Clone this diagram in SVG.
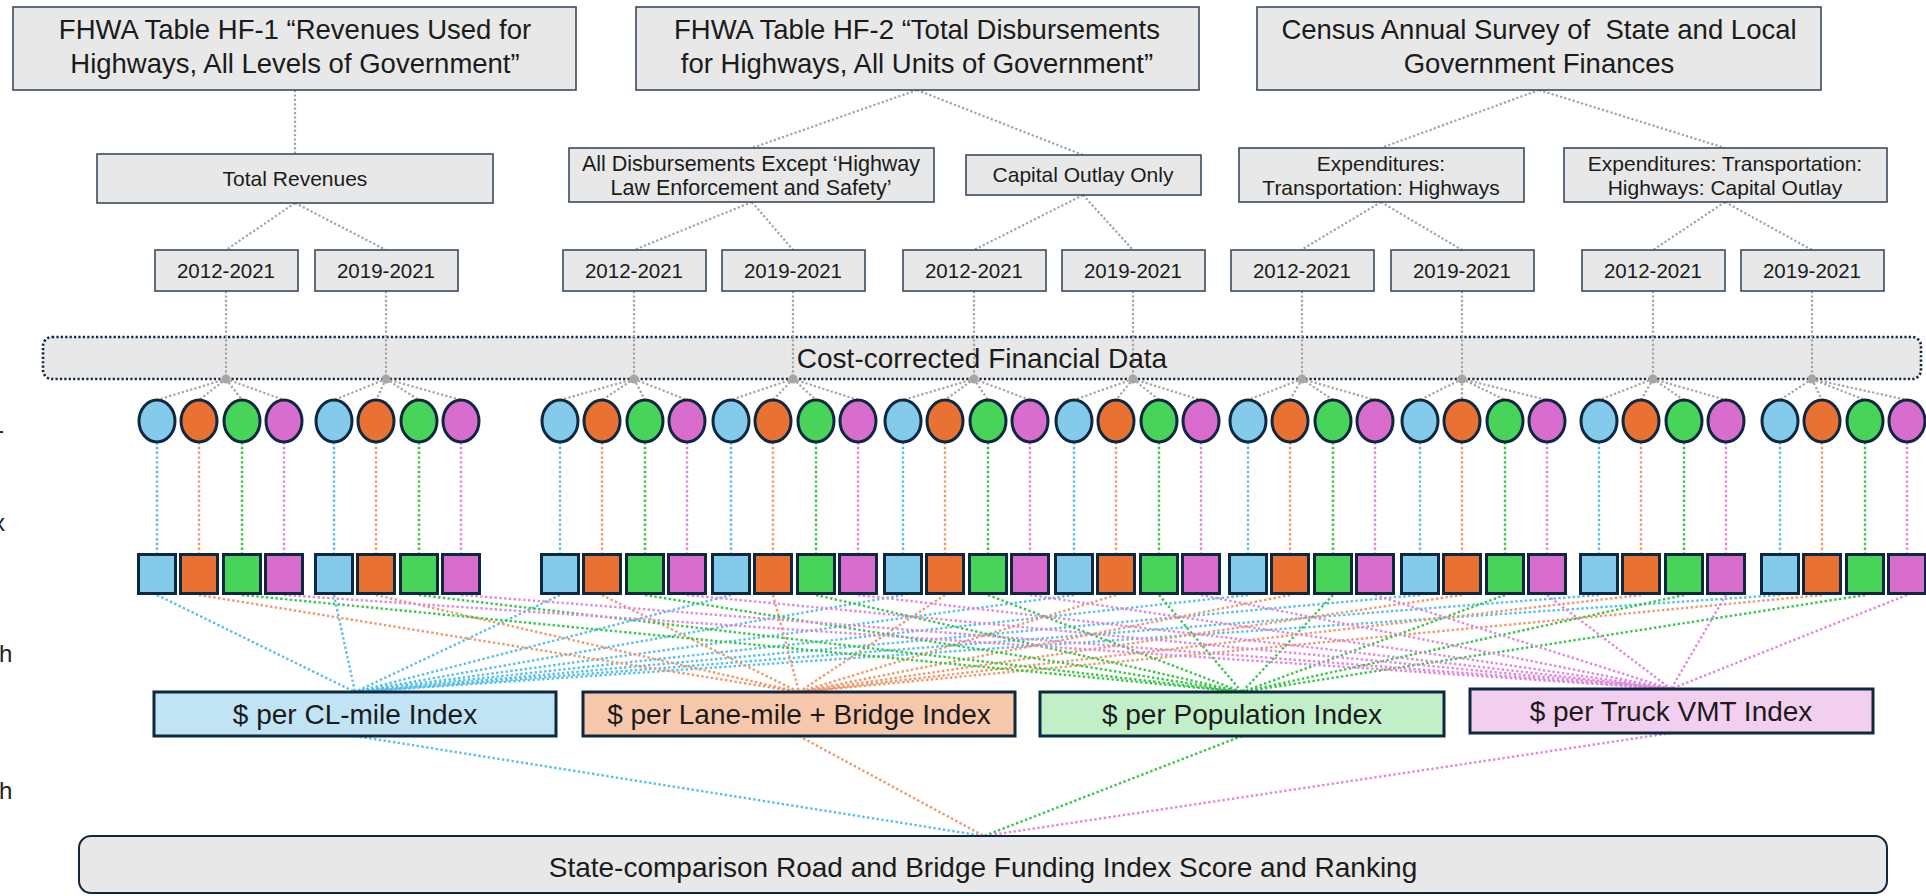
<svg xmlns="http://www.w3.org/2000/svg" width="1926" height="896" viewBox="0 0 1926 896">
<style>
.t{font-family:"Liberation Sans",Arial,sans-serif;fill:#1b1b1b;text-anchor:middle}
.box{fill:#E8E8E8;stroke:#3A4B5C;stroke-width:1.6}
.gl{stroke:#A3A3A3;stroke-width:2.2;stroke-dasharray:2.2 2.2;fill:none}
.lb{stroke:#56C0EC;stroke-width:2.4;stroke-dasharray:2.4 2.4;fill:none}
.lo{stroke:#F2976A;stroke-width:2.4;stroke-dasharray:2.4 2.4;fill:none}
.lg{stroke:#35C846;stroke-width:2.4;stroke-dasharray:2.4 2.4;fill:none}
.lp{stroke:#E486DD;stroke-width:2.4;stroke-dasharray:2.4 2.4;fill:none}
.nb{fill:#83CAEB}.no{fill:#E97132}.ng{fill:#47D459}.np{fill:#D86DCD}
.sh{stroke:#0E2841;stroke-width:3}
.idx{stroke:#0E2841;stroke-width:3}
.dot{fill:#A6A6A6}
</style>

<g id="connectors">
<path class="gl" d="M295 90L295 154M295 203L226 250M295 203L386 250"/>
<path class="gl" d="M917 90L752 148M917 90L1083 155M752 202L634 250M752 202L793 250M1083 195L974 250M1083 195L1133 250"/>
<path class="gl" d="M1539 90L1381 148M1539 90L1725 148M1381 202L1301 250M1381 202L1462 250M1725 202L1653 250M1725 202L1812 250"/>
</g>

<g id="cost-corrected">
<rect x="43" y="337" width="1878" height="42" rx="9" fill="#E8E8E8" stroke="#0E2841" stroke-width="2.6" stroke-dasharray="2.2 2.2"/>
</g>

<g id="connectors-mid">
<path class="gl" d="M226 291L226 379M386 291L386 379M634 291L634 379M793 291L793 379M974 291L974 379M1133 291L1133 379M1302 291L1302 379M1462 291L1462 379M1653 291L1653 379M1812 291L1812 379"/>
<path class="gl" d="M226 379L157 400M226 379L199 400M226 379L242 400M226 379L284 400
M386 379L334 400M386 379L376 400M386 379L419 400M386 379L461 400
M634 379L560 400M634 379L602 400M634 379L645 400M634 379L687 400
M793 379L731 400M793 379L773 400M793 379L816 400M793 379L858 400
M974 379L903 400M974 379L945 400M974 379L988 400M974 379L1030 400
M1133 379L1074 400M1133 379L1116 400M1133 379L1159 400M1133 379L1201 400
M1302 379L1248 400M1302 379L1290 400M1302 379L1333 400M1302 379L1375 400
M1462 379L1420 400M1462 379L1462 400M1462 379L1505 400M1462 379L1547 400
M1653 379L1599 400M1653 379L1641 400M1653 379L1684 400M1653 379L1726 400
M1812 379L1780 400M1812 379L1822 400M1812 379L1865 400M1812 379L1907 400"/>
<g class="dot">
<circle cx="226" cy="379" r="4.5"/><circle cx="386" cy="379" r="4.5"/><circle cx="634" cy="379" r="4.5"/><circle cx="793" cy="379" r="4.5"/><circle cx="974" cy="379" r="4.5"/><circle cx="1133" cy="379" r="4.5"/><circle cx="1302" cy="379" r="4.5"/><circle cx="1462" cy="379" r="4.5"/><circle cx="1653" cy="379" r="4.5"/><circle cx="1812" cy="379" r="4.5"/>
</g>
<path class="lb" d="M157 442V553M334 442V553M560 442V553M731 442V553M903 442V553M1074 442V553M1248 442V553M1420 442V553M1599 442V553M1780 442V553"/>
<path class="lo" d="M199 442V553M376 442V553M602 442V553M773 442V553M945 442V553M1116 442V553M1290 442V553M1462 442V553M1641 442V553M1822 442V553"/>
<path class="lg" d="M242 442V553M419 442V553M645 442V553M816 442V553M988 442V553M1159 442V553M1333 442V553M1505 442V553M1684 442V553M1865 442V553"/>
<path class="lp" d="M284 442V553M461 442V553M687 442V553M858 442V553M1030 442V553M1201 442V553M1375 442V553M1547 442V553M1726 442V553M1907 442V553"/>
<path class="lb" d="M157 595L355 692M334 595L355 692M560 595L355 692M731 595L355 692M903 595L355 692M1074 595L355 692M1248 595L355 692M1420 595L355 692M1599 595L355 692M1780 595L355 692"/>
<path class="lo" d="M199 595L799 692M376 595L799 692M602 595L799 692M773 595L799 692M945 595L799 692M1116 595L799 692M1290 595L799 692M1462 595L799 692M1641 595L799 692M1822 595L799 692"/>
<path class="lg" d="M242 595L1242 692M419 595L1242 692M645 595L1242 692M816 595L1242 692M988 595L1242 692M1159 595L1242 692M1333 595L1242 692M1505 595L1242 692M1684 595L1242 692M1865 595L1242 692"/>
<path class="lp" d="M284 595L1671 689M461 595L1671 689M687 595L1671 689M858 595L1671 689M1030 595L1671 689M1201 595L1671 689M1375 595L1671 689M1547 595L1671 689M1726 595L1671 689M1907 595L1671 689"/>
<path class="lb" d="M355 736L984 836"/>
<path class="lo" d="M799 736L984 836"/>
<path class="lg" d="M1242 736L984 836"/>
<path class="lp" d="M1671 733L984 836"/>
</g>

<text class="t" x="982" y="368" font-size="28">Cost-corrected Financial Data</text>

<g id="hf1"><rect class="box" x="13" y="7" width="563" height="83"/>
<text class="t" x="295" y="39" font-size="27.5">FHWA Table HF-1 “Revenues Used for</text>
<text class="t" x="295" y="73" font-size="27.5">Highways, All Levels of Government”</text></g>
<g id="hf2"><rect class="box" x="636" y="7" width="563" height="83"/>
<text class="t" x="917" y="39" font-size="27.5">FHWA Table HF-2 “Total Disbursements</text>
<text class="t" x="917" y="73" font-size="27.5">for Highways, All Units of Government”</text></g>
<g id="census"><rect class="box" x="1257" y="7" width="564" height="83"/>
<text class="t" x="1539" y="39" font-size="27.5" xml:space="preserve">Census Annual Survey of  State and Local</text>
<text class="t" x="1539" y="73" font-size="27.5">Government Finances</text></g>

<g id="total-revenues"><rect class="box" x="97" y="154" width="396" height="49"/>
<text class="t" x="295" y="186" font-size="21">Total Revenues</text></g>
<g id="all-disb"><rect class="box" x="569" y="148" width="365" height="54"/>
<text class="t" x="751" y="171" font-size="21.5">All Disbursements Except ‘Highway</text>
<text class="t" x="751" y="195" font-size="21.5">Law Enforcement and Safety’</text></g>
<g id="capital-outlay"><rect class="box" x="966" y="155" width="235" height="40"/>
<text class="t" x="1083" y="182" font-size="21">Capital Outlay Only</text></g>
<g id="exp-hwy"><rect class="box" x="1239" y="148" width="285" height="54"/>
<text class="t" x="1381" y="171" font-size="21">Expenditures:</text>
<text class="t" x="1381" y="195" font-size="21">Transportation: Highways</text></g>
<g id="exp-cap"><rect class="box" x="1564" y="148" width="323" height="54"/>
<text class="t" x="1725" y="171" font-size="21">Expenditures: Transportation:</text>
<text class="t" x="1725" y="195" font-size="21">Highways: Capital Outlay</text></g>

<g id="y1"><rect class="box" x="155" y="250" width="143" height="41"/><text class="t" x="226" y="278" font-size="20.5">2012-2021</text></g>
<g id="y2"><rect class="box" x="315" y="250" width="143" height="41"/><text class="t" x="386" y="278" font-size="20.5">2019-2021</text></g>
<g id="y3"><rect class="box" x="563" y="250" width="143" height="41"/><text class="t" x="634" y="278" font-size="20.5">2012-2021</text></g>
<g id="y4"><rect class="box" x="722" y="250" width="143" height="41"/><text class="t" x="793" y="278" font-size="20.5">2019-2021</text></g>
<g id="y5"><rect class="box" x="903" y="250" width="143" height="41"/><text class="t" x="974" y="278" font-size="20.5">2012-2021</text></g>
<g id="y6"><rect class="box" x="1062" y="250" width="143" height="41"/><text class="t" x="1133" y="278" font-size="20.5">2019-2021</text></g>
<g id="y7"><rect class="box" x="1231" y="250" width="143" height="41"/><text class="t" x="1302" y="278" font-size="20.5">2012-2021</text></g>
<g id="y8"><rect class="box" x="1391" y="250" width="143" height="41"/><text class="t" x="1462" y="278" font-size="20.5">2019-2021</text></g>
<g id="y9"><rect class="box" x="1582" y="250" width="143" height="41"/><text class="t" x="1653" y="278" font-size="20.5">2012-2021</text></g>
<g id="y10"><rect class="box" x="1741" y="250" width="143" height="41"/><text class="t" x="1812" y="278" font-size="20.5">2019-2021</text></g>

<g id="circles" class="sh">
<g id="c1b"><ellipse class="nb" cx="157" cy="421" rx="18" ry="21"/></g><g id="c1o"><ellipse class="no" cx="199" cy="421" rx="18" ry="21"/></g><g id="c1g"><ellipse class="ng" cx="242" cy="421" rx="18" ry="21"/></g><g id="c1p"><ellipse class="np" cx="284" cy="421" rx="18" ry="21"/></g>
<g id="c2b"><ellipse class="nb" cx="334" cy="421" rx="18" ry="21"/></g><g id="c2o"><ellipse class="no" cx="376" cy="421" rx="18" ry="21"/></g><g id="c2g"><ellipse class="ng" cx="419" cy="421" rx="18" ry="21"/></g><g id="c2p"><ellipse class="np" cx="461" cy="421" rx="18" ry="21"/></g>
<g id="c3b"><ellipse class="nb" cx="560" cy="421" rx="18" ry="21"/></g><g id="c3o"><ellipse class="no" cx="602" cy="421" rx="18" ry="21"/></g><g id="c3g"><ellipse class="ng" cx="645" cy="421" rx="18" ry="21"/></g><g id="c3p"><ellipse class="np" cx="687" cy="421" rx="18" ry="21"/></g>
<g id="c4b"><ellipse class="nb" cx="731" cy="421" rx="18" ry="21"/></g><g id="c4o"><ellipse class="no" cx="773" cy="421" rx="18" ry="21"/></g><g id="c4g"><ellipse class="ng" cx="816" cy="421" rx="18" ry="21"/></g><g id="c4p"><ellipse class="np" cx="858" cy="421" rx="18" ry="21"/></g>
<g id="c5b"><ellipse class="nb" cx="903" cy="421" rx="18" ry="21"/></g><g id="c5o"><ellipse class="no" cx="945" cy="421" rx="18" ry="21"/></g><g id="c5g"><ellipse class="ng" cx="988" cy="421" rx="18" ry="21"/></g><g id="c5p"><ellipse class="np" cx="1030" cy="421" rx="18" ry="21"/></g>
<g id="c6b"><ellipse class="nb" cx="1074" cy="421" rx="18" ry="21"/></g><g id="c6o"><ellipse class="no" cx="1116" cy="421" rx="18" ry="21"/></g><g id="c6g"><ellipse class="ng" cx="1159" cy="421" rx="18" ry="21"/></g><g id="c6p"><ellipse class="np" cx="1201" cy="421" rx="18" ry="21"/></g>
<g id="c7b"><ellipse class="nb" cx="1248" cy="421" rx="18" ry="21"/></g><g id="c7o"><ellipse class="no" cx="1290" cy="421" rx="18" ry="21"/></g><g id="c7g"><ellipse class="ng" cx="1333" cy="421" rx="18" ry="21"/></g><g id="c7p"><ellipse class="np" cx="1375" cy="421" rx="18" ry="21"/></g>
<g id="c8b"><ellipse class="nb" cx="1420" cy="421" rx="18" ry="21"/></g><g id="c8o"><ellipse class="no" cx="1462" cy="421" rx="18" ry="21"/></g><g id="c8g"><ellipse class="ng" cx="1505" cy="421" rx="18" ry="21"/></g><g id="c8p"><ellipse class="np" cx="1547" cy="421" rx="18" ry="21"/></g>
<g id="c9b"><ellipse class="nb" cx="1599" cy="421" rx="18" ry="21"/></g><g id="c9o"><ellipse class="no" cx="1641" cy="421" rx="18" ry="21"/></g><g id="c9g"><ellipse class="ng" cx="1684" cy="421" rx="18" ry="21"/></g><g id="c9p"><ellipse class="np" cx="1726" cy="421" rx="18" ry="21"/></g>
<g id="c10b"><ellipse class="nb" cx="1780" cy="421" rx="18" ry="21"/></g><g id="c10o"><ellipse class="no" cx="1822" cy="421" rx="18" ry="21"/></g><g id="c10g"><ellipse class="ng" cx="1865" cy="421" rx="18" ry="21"/></g><g id="c10p"><ellipse class="np" cx="1907" cy="421" rx="18" ry="21"/></g>
</g>

<g id="squares" class="sh">
<g id="s1b"><rect class="nb" x="138.5" y="554.5" width="37" height="39"/></g><g id="s1o"><rect class="no" x="180.5" y="554.5" width="37" height="39"/></g><g id="s1g"><rect class="ng" x="223.5" y="554.5" width="37" height="39"/></g><g id="s1p"><rect class="np" x="265.5" y="554.5" width="37" height="39"/></g>
<g id="s2b"><rect class="nb" x="315.5" y="554.5" width="37" height="39"/></g><g id="s2o"><rect class="no" x="357.5" y="554.5" width="37" height="39"/></g><g id="s2g"><rect class="ng" x="400.5" y="554.5" width="37" height="39"/></g><g id="s2p"><rect class="np" x="442.5" y="554.5" width="37" height="39"/></g>
<g id="s3b"><rect class="nb" x="541.5" y="554.5" width="37" height="39"/></g><g id="s3o"><rect class="no" x="583.5" y="554.5" width="37" height="39"/></g><g id="s3g"><rect class="ng" x="626.5" y="554.5" width="37" height="39"/></g><g id="s3p"><rect class="np" x="668.5" y="554.5" width="37" height="39"/></g>
<g id="s4b"><rect class="nb" x="712.5" y="554.5" width="37" height="39"/></g><g id="s4o"><rect class="no" x="754.5" y="554.5" width="37" height="39"/></g><g id="s4g"><rect class="ng" x="797.5" y="554.5" width="37" height="39"/></g><g id="s4p"><rect class="np" x="839.5" y="554.5" width="37" height="39"/></g>
<g id="s5b"><rect class="nb" x="884.5" y="554.5" width="37" height="39"/></g><g id="s5o"><rect class="no" x="926.5" y="554.5" width="37" height="39"/></g><g id="s5g"><rect class="ng" x="969.5" y="554.5" width="37" height="39"/></g><g id="s5p"><rect class="np" x="1011.5" y="554.5" width="37" height="39"/></g>
<g id="s6b"><rect class="nb" x="1055.5" y="554.5" width="37" height="39"/></g><g id="s6o"><rect class="no" x="1097.5" y="554.5" width="37" height="39"/></g><g id="s6g"><rect class="ng" x="1140.5" y="554.5" width="37" height="39"/></g><g id="s6p"><rect class="np" x="1182.5" y="554.5" width="37" height="39"/></g>
<g id="s7b"><rect class="nb" x="1229.5" y="554.5" width="37" height="39"/></g><g id="s7o"><rect class="no" x="1271.5" y="554.5" width="37" height="39"/></g><g id="s7g"><rect class="ng" x="1314.5" y="554.5" width="37" height="39"/></g><g id="s7p"><rect class="np" x="1356.5" y="554.5" width="37" height="39"/></g>
<g id="s8b"><rect class="nb" x="1401.5" y="554.5" width="37" height="39"/></g><g id="s8o"><rect class="no" x="1443.5" y="554.5" width="37" height="39"/></g><g id="s8g"><rect class="ng" x="1486.5" y="554.5" width="37" height="39"/></g><g id="s8p"><rect class="np" x="1528.5" y="554.5" width="37" height="39"/></g>
<g id="s9b"><rect class="nb" x="1580.5" y="554.5" width="37" height="39"/></g><g id="s9o"><rect class="no" x="1622.5" y="554.5" width="37" height="39"/></g><g id="s9g"><rect class="ng" x="1665.5" y="554.5" width="37" height="39"/></g><g id="s9p"><rect class="np" x="1707.5" y="554.5" width="37" height="39"/></g>
<g id="s10b"><rect class="nb" x="1761.5" y="554.5" width="37" height="39"/></g><g id="s10o"><rect class="no" x="1803.5" y="554.5" width="37" height="39"/></g><g id="s10g"><rect class="ng" x="1846.5" y="554.5" width="37" height="39"/></g><g id="s10p"><rect class="np" x="1888.5" y="554.5" width="37" height="39"/></g>
</g>

<g id="idx-cl"><rect class="idx" x="154" y="692" width="402" height="44" fill="#C1E4F5"/><text class="t" x="355" y="724" font-size="28">$ per CL-mile Index</text></g>
<g id="idx-lane"><rect class="idx" x="583" y="692" width="432" height="44" fill="#F7C7AC"/><text class="t" x="799" y="724" font-size="28">$ per Lane-mile + Bridge Index</text></g>
<g id="idx-pop"><rect class="idx" x="1040" y="692" width="404" height="44" fill="#C1F0C8"/><text class="t" x="1242" y="724" font-size="28">$ per Population Index</text></g>
<g id="idx-truck"><rect class="idx" x="1470" y="689" width="403" height="44" fill="#F2CFEE"/><text class="t" x="1671" y="721" font-size="28">$ per Truck VMT Index</text></g>

<g id="final"><rect x="79" y="836" width="1808" height="57" rx="12" fill="#E8E8E8" stroke="#0E2841" stroke-width="2"/>
<text class="t" x="983" y="877" font-size="28">State-comparison Road and Bridge Funding Index Score and Ranking</text></g>

<g id="margin-fragments" font-family="Liberation Sans, Arial, sans-serif" font-size="24" fill="#222">
<text x="-4" y="438">-</text>
<text x="-7" y="531">x</text>
<text x="-1" y="662">h</text>
<text x="-1" y="799">h</text>
</g>
</svg>
